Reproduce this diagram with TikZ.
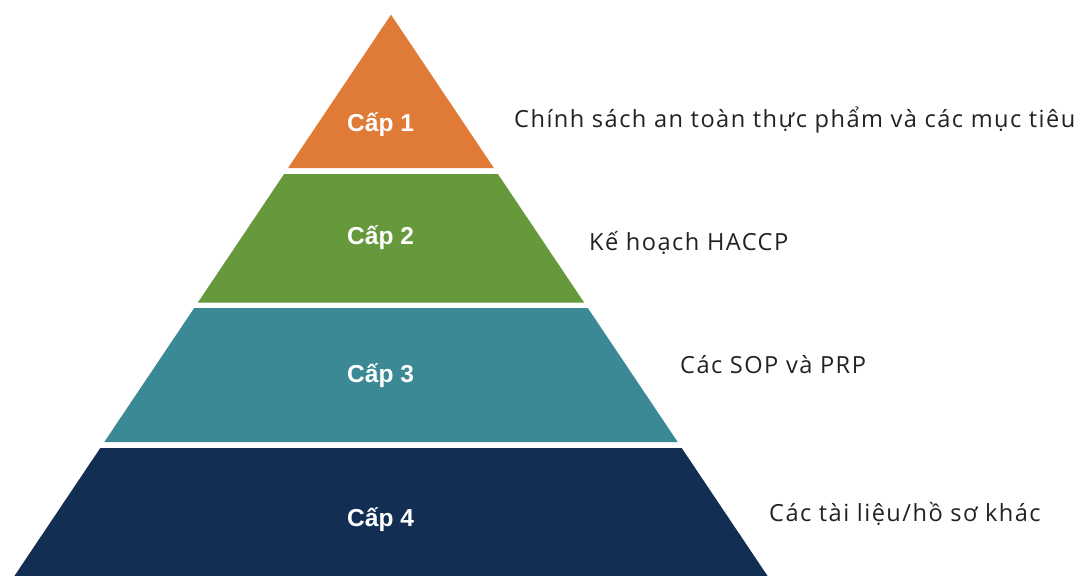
\documentclass[tikz,border=0pt]{standalone}
\usepackage{fontspec}
\setmainfont{Liberation Sans}
\newfontfamily\desc[LetterSpace=6.2]{Open Sans}
\definecolor{lvlA}{HTML}{DF7B37}
\definecolor{lvlB}{HTML}{66993C}
\definecolor{lvlC}{HTML}{3B8994}
\definecolor{lvlD}{HTML}{122E52}
\definecolor{txt}{HTML}{222222}
\begin{document}
\begin{tikzpicture}[x=1pt,y=-1pt,
  lvllabel/.style={anchor=base west,inner sep=0pt,text=white,font=\fontsize{24.5}{28}\selectfont\bfseries},
  desclabel/.style={anchor=base west,inner sep=0pt,text=txt,font=\fontsize{23.6}{28}\selectfont\desc}]
\useasboundingbox (0,0) rectangle (1080,576);
\fill[white] (0,0) rectangle (1080,576);
% pyramid layers: apex (391,14.7), half-width = 0.671*(y-14.7)
\fill[lvlA] (391,14.7) -- (493.9,168) -- (288.1,168) -- cycle;
\fill[lvlB] (284.1,174) -- (497.9,174) -- (584.1,302.5) -- (197.9,302.5) -- cycle;
\fill[lvlC] (194.2,308) -- (587.8,308) -- (677.7,442) -- (104.3,442) -- cycle;
\fill[lvlD] (100.3,448) -- (681.7,448) -- (767.6,576) -- (14.4,576) -- cycle;
% level labels
\node[lvllabel] (l1) at (347,131) {Cấp 1};
\node[lvllabel] (l2) at (347,244) {Cấp 2};
\node[lvllabel] (l3) at (347,382.5) {Cấp 3};
\node[lvllabel] (l4) at (347,526) {Cấp 4};
% descriptions
\node[desclabel] (d1) at (514,127) {Chính sách an toàn thực phẩm và các mục tiêu};
\node[desclabel] (d2) at (589,250) {Kế hoạch HACCP};
\node[desclabel] (d3) at (680,373) {Các SOP và PRP};
\node[desclabel] (d4) at (769,521) {Các tài liệu/hồ sơ khác};
\end{tikzpicture}
\end{document}
